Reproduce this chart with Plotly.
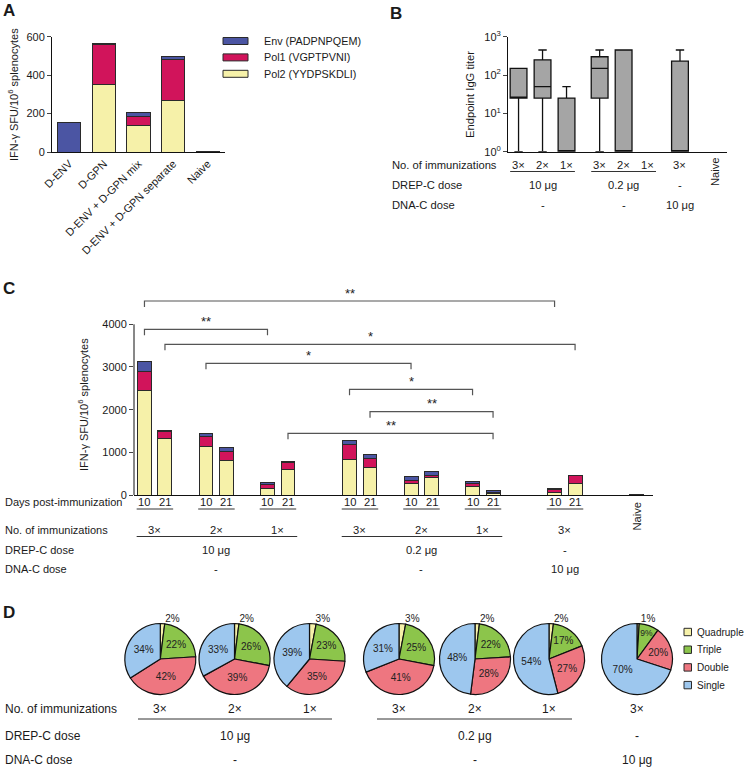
import plotly.graph_objects as go

W, H = 745, 769
FONT = "Liberation Sans, Arial, sans-serif"

# ---- data ----
# A: epitope-specific IFN-g responses
a_groups = ["D-ENV", "D-GPN", "D-ENV + D-GPN mix", "D-ENV + D-GPN separate", "Naive"]
a_env = [155, 3, 22, 17, 2]
a_pol1 = [0, 210, 45, 212, 1]
a_pol2 = [0, 350, 138, 268, 2]
epitopes = ["Env (PADPNPQEM)", "Pol1 (VGPTPVNI)", "Pol2 (YYDPSKDLI)"]

# B: endpoint IgG titers (box: q1, median, q3, whiskers); None = below detection
b_imm = ["3×", "2×", "1×", "3×", "2×", "1×", "3×", "Naive"]
b_q1 = [25, 25, 1, 25, 1, None, 1, None]
b_med = [25, 50, 1, 150, 1, None, 1, None]
b_q3 = [150, 250, 25, 300, 450, None, 230, None]
b_lo = [1, 1, 1, 1, 1, None, 1, None]
b_hi = [150, 450, 50, 450, 450, None, 450, None]

# C: time course
c_days = ["10", "21"] * 7
c_pol2 = [2450, 1330, 1140, 820, 150, 590, 840, 650, 260, 410, 210, 40, 70, 270, 5]
c_pol1 = [450, 150, 240, 200, 100, 160, 350, 210, 75, 45, 70, 30, 50, 180, 3]
c_env = [220, 30, 50, 100, 50, 40, 80, 100, 110, 85, 40, 25, 30, 5, 2]
c_imm = ["3×", "2×", "1×", "3×", "2×", "1×", "3×"]
# significance: (left bar index, right bar index, label)
sig = [(0, 12, "**"), (0, 4, "**"), (1, 13, "*"), (2, 8, "*"),
       (6, 10, "*"), (7, 11, "**"), (5, 11, "**")]

# D: polyfunctionality
d_cats = ["Quadruple", "Triple", "Double", "Single"]
d_vals = [[2, 22, 42, 34], [2, 26, 39, 33], [3, 23, 35, 39],
          [3, 25, 41, 31], [2, 22, 28, 48], [2, 17, 27, 54], [1, 9, 20, 70]]

drep = ["10 μg", "0.2 μg", "-"]
dna = ["-", "-", "10 μg"]

ENV, POL1, POL2 = "#4B55A3", "#D1145B", "#F6F1A9"
PIE_COL = ["#F6F1A9", "#8CC54B", "#EE7680", "#9DC7EE"]
EDGE = "#2a2a2a"


def px(x):
    return x / W


def py(y):
    return 1 - y / H


fig = go.Figure()
ann = []
shp = []


def txt(x, y, s, xref="paper", size=11.2, xanchor="center", angle=0):
    ann.append(dict(x=x, y=py(y), xref=xref, yref="paper", text=s, showarrow=False,
                    xanchor=xanchor, yanchor="middle", textangle=angle,
                    font=dict(size=size, family=FONT, color="#1a1a1a")))


def hline(x0, x1, y, xref="paper", color="#333", w=1):
    shp.append(dict(type="line", xref=xref, yref="paper", x0=x0, x1=x1,
                    y0=py(y), y1=py(y), line=dict(color=color, width=w)))


# ---- A ----
for vals, col in [(a_pol2, POL2), (a_pol1, POL1), (a_env, ENV)]:
    fig.add_trace(go.Bar(x=a_groups, y=vals, xaxis="x", yaxis="y", width=0.67,
                         marker=dict(color=col, line=dict(color=EDGE, width=1)),
                         hoverinfo="skip"))
for i, (name, col) in enumerate(zip(epitopes, [ENV, POL1, POL2])):
    cy = 41 + i * 16.4
    shp.append(dict(type="rect", xref="paper", yref="paper", x0=px(223), x1=px(248),
                    y0=py(cy + 3.5), y1=py(cy - 3.5), fillcolor=col,
                    line=dict(color=EDGE, width=1)))
    txt(px(262), cy, name, xanchor="left", size=10.8)
txt(px(13), 95, "IFN-γ SFU/10<sup>6</sup> splenocytes", angle=-90, size=11)
txt(px(9), 10, "<b>A</b>", size=17)

# ---- B ----
b_pos = [0, 1, 2, 3.38, 4.38, 5.38, 6.73, 8.19]
keep = [i for i in range(len(b_q1)) if b_q1[i] is not None]
fig.add_trace(go.Box(x=[b_pos[i] for i in keep], q1=[b_q1[i] for i in keep],
                     median=[b_med[i] for i in keep], q3=[b_q3[i] for i in keep],
                     lowerfence=[b_lo[i] for i in keep], upperfence=[b_hi[i] for i in keep],
                     xaxis="x2", yaxis="y2", width=0.7, whiskerwidth=0.5,
                     fillcolor="#A5A5A5", line=dict(color="#111", width=1.3),
                     boxpoints=False, hoverinfo="skip"))
txt(px(470), 95, "Endpoint IgG titer", angle=-90)
txt(px(396), 13, "<b>B</b>", size=17)
txt(px(390), 165, "No. of immunizations", xanchor="left")
txt(px(390), 185, "DREP-C dose", xanchor="left")
txt(px(390), 205, "DNA-C dose", xanchor="left")
for i, lab in enumerate(b_imm[:-1]):
    txt(b_pos[i], 165, lab, xref="x2")
txt(b_pos[-1], 172, b_imm[-1], xref="x2", angle=-90)
hline(b_pos[0] - 0.35, b_pos[2] + 0.35, 171.5, xref="x2")
hline(b_pos[3] - 0.35, b_pos[5] + 0.35, 171.5, xref="x2")
for j, c in enumerate([b_pos[1], b_pos[4], b_pos[6]]):
    txt(c, 185, drep[j], xref="x2")
    txt(c, 205, dna[j], xref="x2")

# ---- C ----
c_pos = [0, 1, 3, 4, 6, 7, 10, 11, 13, 14, 16, 17, 20, 21, 24]
for vals, col in [(c_pol2, POL2), (c_pol1, POL1), (c_env, ENV)]:
    fig.add_trace(go.Bar(x=c_pos, y=vals, xaxis="x3", yaxis="y3", width=0.68,
                         marker=dict(color=col, line=dict(color=EDGE, width=1)),
                         hoverinfo="skip"))
shp.append(dict(type="line", xref="x3 domain", yref="y3", x0=0, x1=0, y0=0, y1=4000,
                line=dict(color="#111", width=1)))
levels = [301, 329.3, 344.3, 363.3, 389.3, 411.7, 433.3]
for (l, r, s), lv in zip(sig, levels):
    x0, x1 = c_pos[l], c_pos[r]
    shp.append(dict(type="path", xref="x3", yref="paper",
                    path=f"M {x0},{py(lv + 6)} L {x0},{py(lv)} L {x1},{py(lv)} L {x1},{py(lv + 6)}",
                    line=dict(color="#555", width=1.2)))
    ann.append(dict(x=(x0 + x1) / 2, y=py(lv - 8), xref="x3", yref="paper", text=s,
                    showarrow=False, font=dict(size=13, family=FONT, color="#222")))
txt(px(83), 405, "IFN-γ SFU/10<sup>6</sup> splenocytes", angle=-90, size=11)
txt(px(9), 288, "<b>C</b>", size=17)
for y, lab in [(502, "Days post-immunization"), (530, "No. of immunizations"),
               (550, "DREP-C dose"), (569, "DNA-C dose")]:
    txt(px(3), y, lab, xanchor="left", size=11)
for k in range(7):
    a, b = c_pos[2 * k], c_pos[2 * k + 1]
    txt(a, 502, c_days[2 * k], xref="x3")
    txt(b, 502, c_days[2 * k + 1], xref="x3")
    hline(a - 0.38, b + 0.4, 509, xref="x3")
    txt((a + b) / 2, 530, c_imm[k], xref="x3")
txt(c_pos[-1], 516, "Naive", xref="x3", angle=-90)
hline(c_pos[0] - 0.38, c_pos[5] + 0.45, 536.5, xref="x3")
hline(c_pos[6] - 0.38, c_pos[11] + 0.45, 536.5, xref="x3")
for j, c in enumerate([(c_pos[2] + c_pos[3]) / 2, (c_pos[8] + c_pos[9]) / 2,
                       (c_pos[12] + c_pos[13]) / 2]):
    txt(c, 550, drep[j], xref="x3")
    txt(c, 569, dna[j], xref="x3")

# ---- D ----
pie_cx = [160.3, 234.5, 309.5, 399, 475, 549, 637]
pie_cy, R = 659, 35.5
for cx, vals in zip(pie_cx, d_vals):
    fig.add_trace(go.Pie(values=vals, labels=d_cats, sort=False, direction="clockwise",
                         rotation=0, text=[f"{v}%" for v in vals], textinfo="text",
                         textposition=["outside", "inside", "inside", "inside"],
                         insidetextorientation="horizontal",
                         textfont=dict(size=10, family=FONT, color="#222"),
                         marker=dict(colors=PIE_COL, line=dict(color="#111", width=1.2)),
                         domain=dict(x=[px(cx - R), px(cx + R)], y=[py(pie_cy + R), py(pie_cy - R)]),
                         hoverinfo="skip", showlegend=False))
txt(px(9), 612, "<b>D</b>", size=17)
for i, name in enumerate(d_cats):
    cy = 632 + i * 17.7
    shp.append(dict(type="rect", xref="paper", yref="paper", x0=px(684), x1=px(691.5),
                    y0=py(cy + 3.7), y1=py(cy - 3.7), fillcolor=PIE_COL[i],
                    line=dict(color=EDGE, width=1)))
    txt(px(695), cy, name, xanchor="left", size=10)
for y, lab in [(709, "No. of immunizations"), (736, "DREP-C dose"), (760, "DNA-C dose")]:
    txt(px(3), y, lab, xanchor="left", size=12)
for cx, lab in zip(pie_cx, c_imm):
    txt(px(cx), 709, lab, size=12)
hline(px(138), px(332), 719)
hline(px(377), px(572), 719)
for j, c in enumerate([pie_cx[1], pie_cx[4], pie_cx[6]]):
    txt(px(c), 736, drep[j], size=12)
    txt(px(c), 760, dna[j], size=12)

axis_common = dict(showgrid=False, zeroline=False, showline=True, linecolor="#111",
                   linewidth=1, automargin=False,
                   tickfont=dict(size=11, family=FONT, color="#1a1a1a"))
fig.update_layout(
    width=W, height=H, margin=dict(l=0, r=0, t=0, b=0, pad=0), autosize=False,
    barmode="stack", showlegend=False, plot_bgcolor="white", paper_bgcolor="white",
    font=dict(family=FONT, size=11, color="#1a1a1a"),
    xaxis=dict(domain=[px(52), px(225)], range=[-0.5, 4.5], anchor="y",
               tickangle=-45, ticks="", **axis_common),
    yaxis=dict(domain=[py(152), py(36.7)], range=[0, 600], anchor="x",
               tickvals=[0, 200, 400, 600], ticks="outside", ticklen=4, **axis_common),
    xaxis2=dict(domain=[px(508), px(727)], range=[-0.44, 8.69], anchor="y2",
                showticklabels=False, ticks="", **axis_common),
    yaxis2=dict(domain=[py(151.7), py(36.7)], type="log", range=[0, 3], anchor="x2",
                tickvals=[1, 10, 100, 1000],
                ticktext=["10<sup>0</sup>", "10<sup>1</sup>", "10<sup>2</sup>", "10<sup>3</sup>"],
                ticks="outside", ticklen=4, **axis_common),
    xaxis3=dict(domain=[px(134), px(653)], range=[-0.51, 24.8], anchor="y3",
                showticklabels=False, ticks="", **axis_common),
    yaxis3=dict(domain=[py(495), py(290)], range=[0, (495 - 290) / (495 - 324.3) * 4000],
                anchor="x3", tickvals=[0, 1000, 2000, 3000, 4000], ticks="outside", ticklen=4,
                **{**axis_common, "showline": False}),
    annotations=ann, shapes=shp,
)

# the page body has a default 8px margin; drop it so the figure sits at the window corner
fig.write_html("out.html", config={"displayModeBar": False},
               post_script="document.body.style.margin='0';")
